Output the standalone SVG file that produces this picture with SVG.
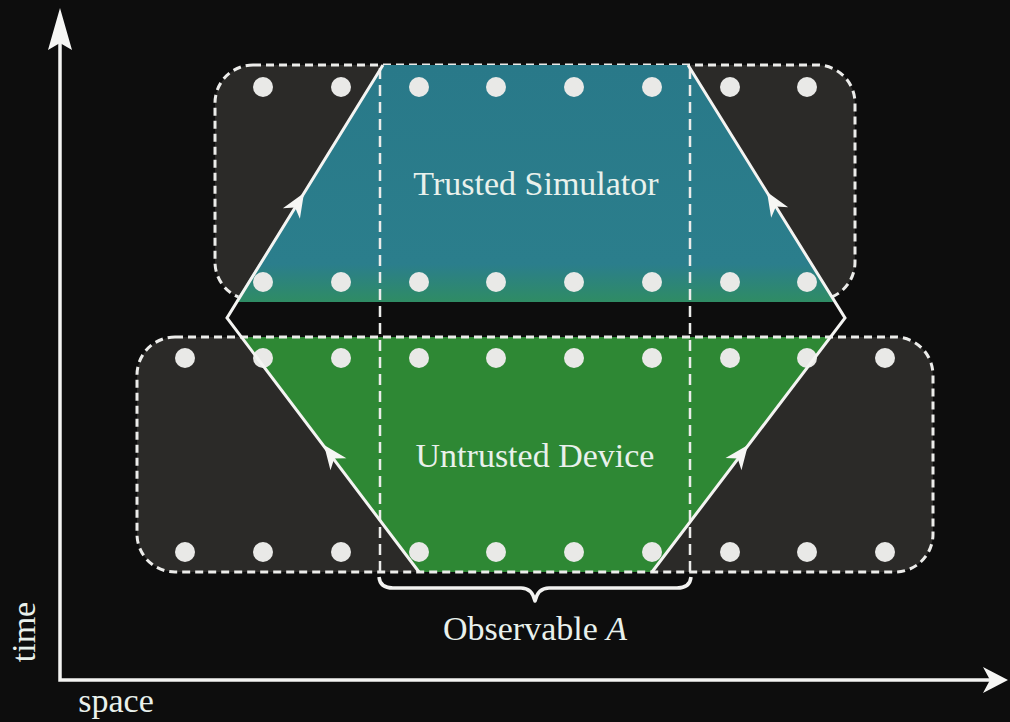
<svg xmlns="http://www.w3.org/2000/svg" width="1010" height="722" viewBox="0 0 1010 722">
  <style>
    .box { fill: #2b2a28; stroke: #ececea; stroke-width: 3; stroke-dasharray: 8 5; }
    .dot { fill: #e9e9e7; }
    .vdash { stroke: #ececea; stroke-width: 2.5; stroke-dasharray: 11 6; fill: none; }
    .edge { stroke: #f4f4f2; stroke-width: 3; fill: none; stroke-linejoin: miter; }
    .lbl { font-family: "Liberation Serif", "DejaVu Serif", serif; font-size: 34px; fill: #e9f1ec; }
    .axis { stroke: #f4f4f2; stroke-width: 3.5; fill: none; }
    .head { fill: #f6f6f4; }
  </style>
  <defs>
    <linearGradient id="teal" gradientUnits="userSpaceOnUse" x1="0" y1="65" x2="0" y2="302">
      <stop offset="0" stop-color="#297989"/>
      <stop offset="0.84" stop-color="#2b7e8c"/>
      <stop offset="1" stop-color="#2f8c64"/>
    </linearGradient>
    <path id="ah" d="M 0 0 L -24 -10 L -17 0 L -24 10 Z"/>
  </defs>
  <rect width="1010" height="722" fill="#0d0d0d"/>

  <g id="trusted-box">
    <rect class="box" x="215" y="65" width="640" height="235" rx="38"/>
    <path d="M 383 65 L 688 65 L 833 299 Q 835 302 830 302 L 240 302 Q 235 302 237 299 Z" fill="url(#teal)"/>
  </g>
  <g id="untrusted-box">
    <rect x="137" y="337" width="796" height="235" rx="38" fill="#2b2a28"/>
    <path d="M 242 337 L 831 337 L 652 572 L 418 572 Z" fill="#2e8834"/>
    <rect x="137" y="337" width="796" height="235" rx="38" fill="none" stroke="#ececea" stroke-width="3" stroke-dasharray="8 5"/>
  </g>

  <g id="dots">
    <g class="dot">
      <circle cx="263" cy="87" r="10"/><circle cx="341" cy="87" r="10"/><circle cx="419" cy="87" r="10"/><circle cx="496" cy="87" r="10"/>
      <circle cx="574" cy="87" r="10"/><circle cx="652" cy="87" r="10"/><circle cx="730" cy="87" r="10"/><circle cx="807" cy="87" r="10"/>
      <circle cx="263" cy="282" r="10"/><circle cx="341" cy="282" r="10"/><circle cx="419" cy="282" r="10"/><circle cx="496" cy="282" r="10"/>
      <circle cx="574" cy="282" r="10"/><circle cx="652" cy="282" r="10"/><circle cx="730" cy="282" r="10"/><circle cx="807" cy="282" r="10"/>
      <circle cx="185" cy="358" r="10"/><circle cx="263" cy="358" r="10"/><circle cx="341" cy="358" r="10"/><circle cx="419" cy="358" r="10"/><circle cx="496" cy="358" r="10"/>
      <circle cx="574" cy="358" r="10"/><circle cx="652" cy="358" r="10"/><circle cx="730" cy="358" r="10"/><circle cx="807" cy="358" r="10"/><circle cx="885" cy="358" r="10"/>
      <circle cx="185" cy="552" r="10"/><circle cx="263" cy="552" r="10"/><circle cx="341" cy="552" r="10"/><circle cx="419" cy="552" r="10"/><circle cx="496" cy="552" r="10"/>
      <circle cx="574" cy="552" r="10"/><circle cx="652" cy="552" r="10"/><circle cx="730" cy="552" r="10"/><circle cx="807" cy="552" r="10"/><circle cx="885" cy="552" r="10"/>
    </g>
  </g>

  <g id="connectors">
    <line class="vdash" x1="380" y1="68" x2="380" y2="578"/>
    <line class="vdash" x1="690" y1="68" x2="690" y2="578"/>
    <path class="edge" d="M 383 65 L 227 318 L 419 572 M 688 65 L 845 318 L 652 572"/>
    <use href="#ah" class="head" transform="translate(304,193) rotate(-58.3)"/>
    <use href="#ah" class="head" transform="translate(767,192) rotate(-121.8)"/>
    <use href="#ah" class="head" transform="translate(324,445) rotate(-127)"/>
    <use href="#ah" class="head" transform="translate(748,445) rotate(-52.8)"/>
    <path d="M 379 577 Q 380 588 393 588 L 521 588 Q 532 588 535 601 Q 538 588 549 588 L 677 588 Q 690 588 691 577" fill="none" stroke="#f2f2f0" stroke-width="3.5" stroke-linejoin="round"/>
  </g>

  <g id="axes">
    <path class="axis" d="M 60 40 L 60 680 L 994 680"/>
    <path class="head" d="M 60 8 L 72 50 L 60 43 L 48 50 Z"/>
    <path class="head" d="M 1008 680 L 983 667 L 990 680 L 983 693 Z"/>
  </g>

  <g id="labels">
    <text class="lbl" x="536" y="195" text-anchor="middle">Trusted Simulator</text>
    <text class="lbl" x="535" y="467" text-anchor="middle">Untrusted Device</text>
    <text class="lbl" x="535" y="640" text-anchor="middle">Observable <tspan font-style="italic">A</tspan></text>
    <text class="lbl" x="116" y="712" text-anchor="middle">space</text>
    <text class="lbl" transform="translate(35,632) rotate(-90)" text-anchor="middle">time</text>
  </g>
</svg>
